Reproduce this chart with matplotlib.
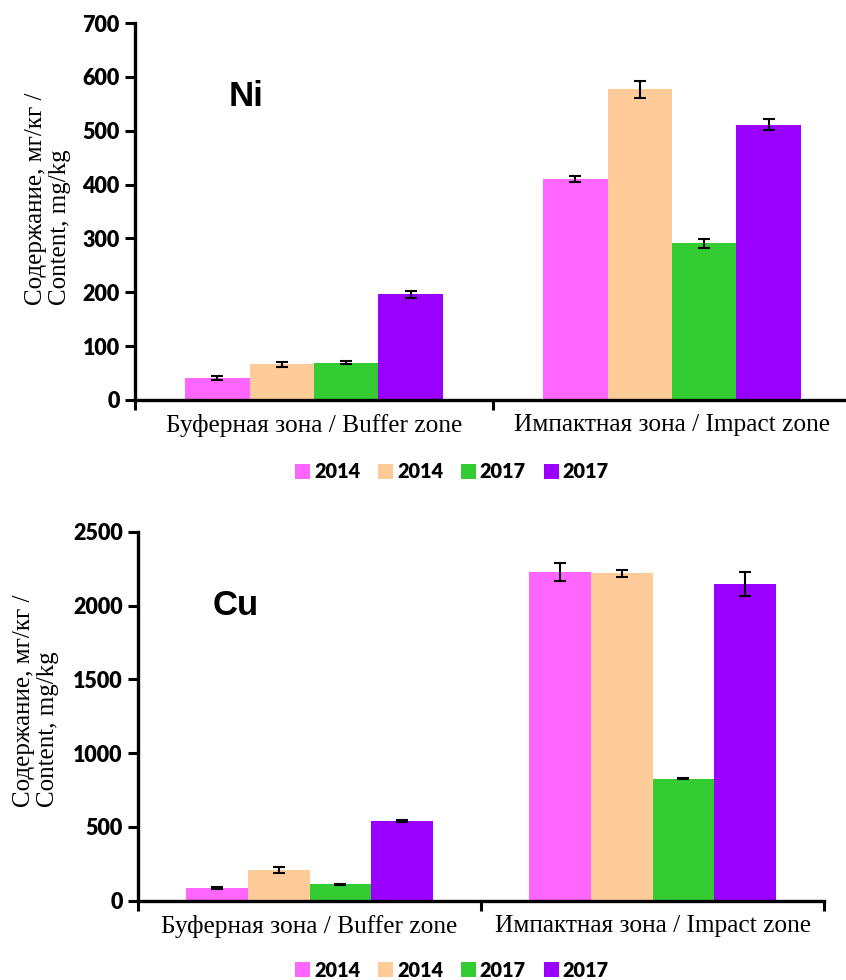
import matplotlib.pyplot as plt
from matplotlib.patches import Patch
import numpy as np

zones = ['Буферная зона / Buffer zone', 'Импактная зона / Impact zone']
years = ['2014', '2014', '2017', '2017']
colors = ['#FF66FF', '#FFCC99', '#33CC33', '#9900FF']

# Ni, mg/kg: rows = series, columns = zones
ni_vals = [[41, 410], [66, 577], [69, 291], [196, 511]]
ni_err = [[3, 6], [5, 16], [3, 8], [6, 10]]

# Cu, mg/kg
cu_vals = [[88, 2225], [206, 2218], [111, 827], [540, 2146]]
cu_err = [[8, 60], [20, 22], [5, 5], [8, 79]]

ylab = 'Содержание, мг/кг /\nContent, mg/kg'
tick_font = 'Lato'
serif = 'Liberation Serif'

fig = plt.figure(figsize=(8.46, 9.8), dpi=100)


def draw(ax, vals, err, ymax, step, name, name_xy):
    x = np.arange(len(zones))
    w = 0.18
    for i in range(len(vals)):
        ax.bar(x + (i - 1.5) * w, vals[i], w, color=colors[i], zorder=2,
               yerr=err[i], capsize=4,
               error_kw=dict(ecolor='black', elinewidth=1.5, capthick=1.5))
    ax.set_ylim(0, ymax)
    ax.set_yticks(np.arange(0, ymax + 1, step))
    ax.set_xlim(-0.5, 1.5)
    ax.set_xticks([-0.5, 0.5, 1.5])
    ax.set_xticklabels([])
    ax.set_xticks(x, minor=True)
    ax.set_xticklabels(zones, minor=True, fontsize=18.3, family=serif)
    ax.tick_params(axis='x', which='minor', length=0, pad=10)
    ax.tick_params(axis='x', which='major', length=7, width=2.2, direction='out')
    ax.tick_params(axis='y', length=7, width=2.2, direction='out', pad=4)
    for lb in ax.get_yticklabels():
        lb.set_fontfamily(tick_font)
        lb.set_fontweight('heavy')
        lb.set_fontsize(15.5)
    for s in ['top', 'right']:
        ax.spines[s].set_visible(False)
    for s in ['left', 'bottom']:
        ax.spines[s].set_linewidth(2.4)
    ax.text(name_xy[0], name_xy[1], name, fontsize=25, fontweight='bold',
            family='Liberation Sans', ha='center', va='center')


ax1 = fig.add_axes([135 / 846, 1 - 400 / 980, 716 / 846, 377 / 980])
draw(ax1, ni_vals, ni_err, 700, 100, 'Ni', (-0.19, 563))
ax2 = fig.add_axes([138 / 846, 1 - 900.7 / 980, 686 / 846, 369 / 980])
draw(ax2, cu_vals, cu_err, 2500, 500, 'Cu', (-0.215, 2003))

fig.text(48 / 846, 1 - 305 / 980, ylab, rotation=90, ha='center', va='bottom',
         multialignment='left', fontsize=18, family=serif, linespacing=1.15)
fig.text(36 / 846, 1 - 807 / 980, ylab, rotation=90, ha='center', va='bottom',
         multialignment='left', fontsize=18, family=serif, linespacing=1.15)

handles = [Patch(facecolor=c, edgecolor='none') for c in colors]
for yc in [472, 970]:
    fig.legend(handles, years, loc='center', bbox_to_anchor=(452 / 846, 1 - yc / 980),
               ncol=4, frameon=False, handlelength=0.75, handleheight=0.75,
               handletextpad=0.2, columnspacing=0.9,
               prop=dict(family=tick_font, weight='heavy', size=14.3))

fig.savefig('out.png', dpi=100)
